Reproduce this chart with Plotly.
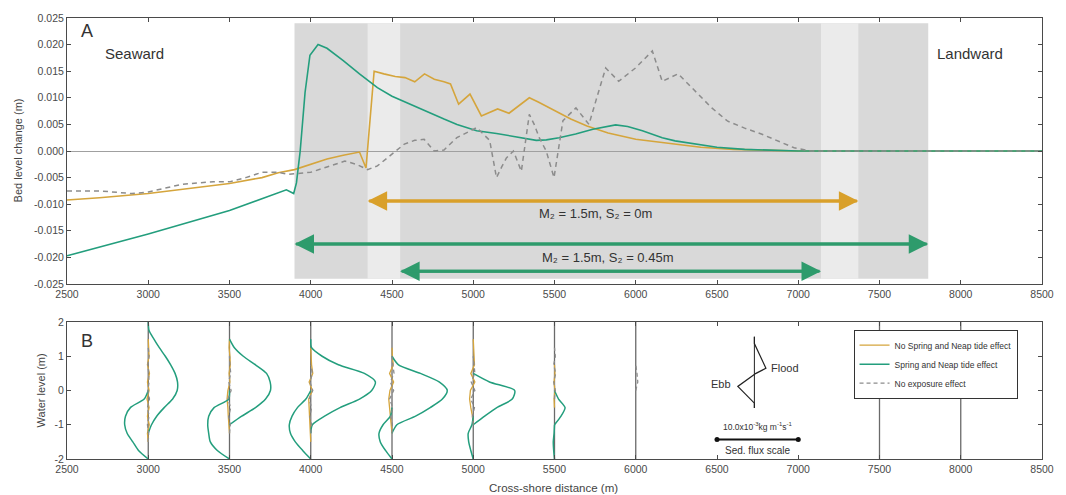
import plotly.graph_objects as go

# ---------------- Panel A data ----------------
noSN_x = [2500, 2700, 3000, 3200, 3500, 3700, 3800, 3900, 4000, 4100, 4200, 4300, 4340, 4390, 4450, 4520,
          4580, 4640, 4700, 4760, 4820, 4860, 4910, 4980, 5050, 5100, 5150, 5220, 5280, 5345, 5400, 5460,
          5530, 5600, 5700, 5830, 6000, 6240, 6400, 6600, 6800, 7000, 8500]
noSN_y = [-0.0092, -0.0088, -0.0080, -0.0072, -0.0061, -0.0050, -0.0041, -0.0035, -0.0025, -0.0015, -0.0008,
          -0.0002, -0.0032, 0.0150, 0.0145, 0.0140, 0.0138, 0.0130, 0.0145, 0.0135, 0.0130, 0.0126, 0.0088,
          0.0107, 0.0066, 0.0072, 0.0079, 0.0071, 0.0085, 0.0100, 0.0092, 0.0082, 0.0071, 0.0060, 0.0047,
          0.0034, 0.0022, 0.0013, 0.0007, 0.0003, 0.0001, 0.0, 0.0]

SN_x = [2500, 3000, 3500, 3850, 3895, 3912, 3935, 3965, 3995, 4045, 4100, 4200, 4300, 4410, 4500, 4613, 4700,
        4820, 4900, 5021, 5143, 5250, 5388, 5450, 5528, 5630, 5736, 5876, 5950, 6041, 6163, 6242, 6365, 6500,
        6670, 6850, 7000, 8500]
SN_y = [-0.0197, -0.0156, -0.0112, -0.0073, -0.0080, -0.0060, 0.0000, 0.0110, 0.0180, 0.0200, 0.0193, 0.0170,
        0.0145, 0.0119, 0.0103, 0.0088, 0.0075, 0.0060, 0.0050, 0.0038, 0.0033, 0.0027, 0.0020, 0.0021, 0.0025,
        0.0032, 0.0041, 0.0049, 0.0046, 0.0038, 0.0025, 0.0019, 0.0013, 0.0007, 0.0003, 0.0001, 0.0, 0.0]

noExp_x = [2500, 2700, 2900, 3000, 3100, 3200, 3300, 3400, 3500, 3600, 3700, 3800, 3860, 4000, 4100, 4210, 4280,
           4350, 4410, 4515, 4576, 4640, 4698, 4759, 4820, 4899, 4960, 5021, 5101, 5143, 5175, 5204, 5247, 5296,
           5345, 5375, 5406, 5449, 5497, 5552, 5632, 5712, 5760, 5815, 5895, 5998, 6102, 6163, 6261, 6365, 6468,
           6566, 6670, 6773, 6871, 6975, 7078, 8500]
noExp_y = [-0.0075, -0.0075, -0.0080, -0.0077, -0.0070, -0.0063, -0.0060, -0.0058, -0.0058, -0.0050, -0.0040,
           -0.0040, -0.0044, -0.0040, -0.0030, -0.0019, -0.0025, -0.0035, -0.0028, -0.0003, 0.0013, 0.0020, 0.0022,
           0.0000, 0.0002, 0.0025, 0.0035, 0.0044, 0.0020, -0.0050, -0.0030, -0.0013, 0.0000, -0.0038, 0.0069,
           0.0050, 0.0025, 0.0000, -0.0050, 0.0057, 0.0081, 0.0050, 0.0100, 0.0156, 0.0131, 0.0156, 0.0188, 0.0131,
           0.0145, 0.0113, 0.0081, 0.0056, 0.0043, 0.0032, 0.0019, 0.0006, 0.0000, 0.0000]

# exposure ranges (m)
range_M2_S0 = [4350, 7370]
range_M2_S045_wide = [3900, 7800]
range_M2_S045_narrow = [4550, 7140]
label_S0 = "M\u2082 = 1.5m, S\u2082 = 0m"
label_S045 = "M\u2082 = 1.5m, S\u2082 = 0.45m"

x_ticks = [2500, 3000, 3500, 4000, 4500, 5000, 5500, 6000, 6500, 7000, 7500, 8000, 8500]
yA_ticks = [-0.025, -0.020, -0.015, -0.010, -0.005, 0.000, 0.005, 0.010, 0.015, 0.020, 0.025]
yB_ticks = [-2, -1, 0, 1, 2]

# ---------------- Panel B data ----------------
stations = [3000, 3500, 4000, 4500, 5000, 5500, 6000, 7500, 8000]
water_level = [-2.0, -1.75, -1.5, -1.25, -1.0, -0.75, -0.5, -0.25, 0.0, 0.25, 0.5, 0.75, 1.0, 1.25, 1.5, 1.75, 2.0]
# sediment flux (x10^-3 kg m^-1 s^-1) on the water_level grid
SN_flood = [
    [0, 0, 0, 0, 0.4, 1.04, 1.96, 3.0, 3.56, 3.6, 3.3, 2.76, 2.1, 1.36, 0.7, 0.1, 0],
    [0, 0, 0, 0, 0, 1.5, 3.2, 4.44, 5.04, 5.0, 4.56, 3.2, 1.7, 0.6, 0, 0, 0],
    [0, 0, 0, 0, 0.2, 1.7, 3.6, 6.0, 7.5, 7.96, 6.6, 3.4, 1.4, 0.1, 0, 0, 0],
    [0, 0, 0, 0, 0.6, 2.9, 4.7, 6.2, 6.8, 5.8, 3.5, 0.8, 0, 0, 0, 0, 0],
    [0, 0, 0, 0, 0, 1.4, 2.9, 4.8, 5.1, 2.0, 0, 0, 0, 0, 0, 0, 0],
    [0, 0, 0, 0, 0, 0.8, 1.3, 0.5, 0, 0, 0, 0, 0, 0, 0, 0, 0],
    [0] * 17, [0] * 17, [0] * 17,
]
SN_ebb = [
    [0, -1.2, -1.9, -2.6, -2.9, -2.8, -2.2, -0.5, 0, 0, 0, 0, 0, 0, 0, 0, 0],
    [0, -1.5, -2.36, -2.56, -2.68, -2.56, -1.9, -0.1, 0, 0, 0, 0, 0, 0, 0, 0, 0],
    [0, -1.0, -1.9, -2.5, -2.64, -2.3, -1.64, -0.6, 0, 0, 0, 0, 0, 0, 0, 0, 0],
    [0, -0.8, -1.44, -1.6, -1.1, -0.2, 0, 0, 0, 0, 0, 0, 0, 0, 0, 0, 0],
    [0, -0.3, -0.56, -0.62, -0.16, 0, 0, 0, 0, 0, 0, 0, 0, 0, 0, 0, 0],
    [0, -0.1, -0.15, -0.05, 0, 0, 0, 0, 0, 0, 0, 0, 0, 0, 0, 0, 0],
    [0] * 17, [0] * 17, [0] * 17,
]
noSN_flux = [
    [0, 0, 0, -0.1, 0.12, -0.1, 0.1, -0.15, 0.1, -0.1, 0.15, -0.1, 0.1, 0.05, 0, 0, 0],
    [0, 0, 0, 0, -0.1, -0.15, -0.2, -0.3, -0.2, 0.05, -0.05, 0.1, 0.05, -0.05, 0, 0, 0],
    [0, 0, 0, -0.05, -0.1, -0.15, -0.2, -0.25, 0.2, -0.2, 0.25, 0.1, 0.05, 0, 0, 0, 0],
    [0, 0, 0, 0, -0.1, -0.2, -0.35, -0.4, -0.25, 0.2, -0.3, 0.15, 0.05, 0, 0, 0, 0],
    [0, 0, 0, 0, 0, -0.1, -0.3, -0.45, -0.35, 0.2, -0.3, 0.15, 0.1, 0.05, 0, 0, 0],
    [0, 0, 0, 0, 0, 0, 0, -0.05, 0.05, -0.05, 0.05, 0, 0, 0, 0, 0, 0],
    [0] * 17, [0] * 17, [0] * 17,
]
noExp_flux = [
    [0, 0, 0, 0.05, -0.1, 0.1, -0.1, 0.15, -0.05, 0.1, 0.05, -0.05, 0.1, 0, 0, 0, 0],
    [0, 0, 0, 0, 0.1, -0.1, 0.15, -0.2, 0.2, -0.1, 0.15, 0.05, 0, 0, 0, 0, 0],
    [0, 0, 0, 0, 0.1, -0.1, 0.1, -0.2, 0.25, -0.1, 0.2, 0, 0, 0, 0, 0, 0],
    [0, 0, 0, 0, 0.05, -0.15, 0.1, -0.3, 0.2, -0.2, 0.25, 0.1, 0, 0, 0, 0, 0],
    [0, 0, 0, 0, 0, -0.1, 0.15, -0.3, 0.2, -0.25, 0.2, 0.1, 0, 0, 0, 0, 0],
    [0, 0, 0, 0, 0, 0, 0, 0, 0.1, -0.1, 0.15, -0.1, 0.1, 0, 0, 0, 0],
    [0, 0, 0, 0, 0, 0, 0, 0, 0, 0.25, 0.15, 0, 0, 0, 0, 0, 0],
    [0] * 17, [0] * 17,
]

# flux scale bar and schematic
scale_value = 10.0
scale_bar = [6500, 7000]
scale_level = -1.43
inset_station = 6730
inset_flux = [0, 0, 1.42, 0.2, -2.04, 0, 0]
inset_wl = [1.57, 1.37, 0.65, 0.50, 0.12, -0.37, -0.51]

M_PER_UNIT = (scale_bar[1] - scale_bar[0]) / scale_value

C_OR = "#D5A53C"
C_GR = "#239E7D"
C_GY = "#8C8C8C"
C_AR_OR = "#D9A02A"
C_AR_GR = "#2E9B6C"
AX = "#4a4a4a"
FONT = "Liberation Sans, Arial, sans-serif"


def profile(stlist, wl, fluxes, trim=True):
    xs, ys = [], []
    for st, f in zip(stlist, fluxes):
        nz = [i for i, v in enumerate(f) if v != 0]
        if not nz:
            continue
        i0 = max(nz[0] - 1, 0) if trim else 0
        i1 = min(nz[-1] + 1, len(f) - 1) if trim else len(f) - 1
        for i in range(i0, i1 + 1):
            xs.append(st + f[i] * M_PER_UNIT)
            ys.append(wl[i])
        xs.append(None)
        ys.append(None)
    return xs, ys


fig = go.Figure()

# Panel A lines
fig.add_trace(go.Scatter(x=noSN_x, y=noSN_y, mode="lines", line=dict(color=C_OR, width=1.6),
                         showlegend=False, xaxis="x", yaxis="y"))
fig.add_trace(go.Scatter(x=SN_x, y=SN_y, mode="lines", line=dict(color=C_GR, width=1.6),
                         showlegend=False, xaxis="x", yaxis="y"))
fig.add_trace(go.Scatter(x=noExp_x, y=noExp_y, mode="lines", line=dict(color=C_GY, width=1.5, dash="5px,4px"),
                         showlegend=False, xaxis="x", yaxis="y"))

# Panel B station lines
sx, sy = [], []
for st in stations:
    sx += [st, st, None]
    sy += [yB_ticks[0], yB_ticks[-1], None]
fig.add_trace(go.Scatter(x=sx, y=sy, mode="lines", line=dict(color="#6a6a6a", width=1.3),
                         showlegend=False, xaxis="x2", yaxis="y2", hoverinfo="skip"))

# Panel B profiles
ox, oy = profile(stations, water_level, noSN_flux)
fig.add_trace(go.Scatter(x=ox, y=oy, mode="lines", line=dict(color=C_OR, width=1.3),
                         name="No Spring and Neap tide effect", xaxis="x2", yaxis="y2"))
fx, fy = profile(stations, water_level, SN_flood)
ex, ey = profile(stations, water_level, SN_ebb)
fig.add_trace(go.Scatter(x=fx + ex, y=fy + ey, mode="lines",
                         line=dict(color=C_GR, width=1.5, shape="spline", smoothing=0.7),
                         name="Spring and Neap tide effect", xaxis="x2", yaxis="y2"))
gx, gy = profile(stations, water_level, noExp_flux)
fig.add_trace(go.Scatter(x=gx, y=gy, mode="lines", line=dict(color=C_GY, width=1.3, dash="4px,3px"),
                         name="No exposure effect", xaxis="x2", yaxis="y2"))

# inset schematic
fig.add_trace(go.Scatter(x=[inset_station + v * M_PER_UNIT for v in inset_flux], y=inset_wl, mode="lines",
                         line=dict(color="#222", width=1.2), showlegend=False, xaxis="x2", yaxis="y2"))
fig.add_trace(go.Scatter(x=[inset_station, inset_station], y=[inset_wl[0], inset_wl[-1]], mode="lines",
                         line=dict(color="#222", width=1.0), showlegend=False, xaxis="x2", yaxis="y2"))
# scale bar
fig.add_trace(go.Scatter(x=scale_bar, y=[scale_level, scale_level], mode="lines+markers",
                         line=dict(color="#111", width=2), marker=dict(size=5, color="#111"),
                         showlegend=False, xaxis="x2", yaxis="y2"))

shapes = [
    dict(type="rect", xref="x", yref="y", x0=range_M2_S045_wide[0], x1=range_M2_S045_wide[1], y0=-0.024, y1=0.024,
         fillcolor="#d9d9d9", line=dict(width=0), layer="below"),
    dict(type="rect", xref="x", yref="y", x0=range_M2_S0[0], x1=range_M2_S045_narrow[0], y0=-0.024, y1=0.024,
         fillcolor="#ebebeb", line=dict(width=0), layer="below"),
    dict(type="rect", xref="x", yref="y", x0=range_M2_S045_narrow[1], x1=range_M2_S0[1], y0=-0.024, y1=0.024,
         fillcolor="#ebebeb", line=dict(width=0), layer="below"),
]

ann = []


def double_arrow(rng, yv, color):
    # each head drawn from the opposite end so the shafts fully overlap
    for end, other in ((rng[0], rng[1]), (rng[1], rng[0])):
        ann.append(dict(x=end, y=yv, ax=other, ay=yv, xref="x", yref="y", axref="x", ayref="y", text="",
                        showarrow=True, arrowhead=2, arrowsize=1.3, arrowwidth=3, arrowcolor=color, standoff=0))


double_arrow(range_M2_S0, -0.0094, C_AR_OR)
double_arrow(range_M2_S045_wide, -0.0175, C_AR_GR)
double_arrow(range_M2_S045_narrow, -0.0226, C_AR_GR)

ann += [
    dict(x=5754, y=-0.0118, xref="x", yref="y", text=label_S0, showarrow=False, font=dict(size=13, color="#333")),
    dict(x=5827, y=-0.0201, xref="x", yref="y", text=label_S045, showarrow=False, font=dict(size=13, color="#333")),
    dict(x=2575, y=0.0226, xref="x", yref="y", text="A", showarrow=False, xanchor="left",
         font=dict(size=18, color="#333")),
    dict(x=2720, y=0.0184, xref="x", yref="y", text="Seaward", showarrow=False, xanchor="left",
         font=dict(size=15, color="#333")),
    dict(x=7842, y=0.0184, xref="x", yref="y", text="Landward", showarrow=False, xanchor="left",
         font=dict(size=15, color="#333")),
    dict(x=2575, y=1.46, xref="x2", yref="y2", text="B", showarrow=False, xanchor="left",
         font=dict(size=18, color="#333")),
    dict(x=6822, y=0.65, xref="x2", yref="y2", text="Flood", showarrow=False, xanchor="left",
         font=dict(size=11, color="#333")),
    dict(x=6597, y=0.18, xref="x2", yref="y2", text="Ebb", showarrow=False, xanchor="right",
         font=dict(size=11, color="#333")),
    dict(x=(scale_bar[0] + scale_bar[1]) / 2, y=-1.05, xref="x2", yref="y2",
         text="%.1fx10<sup>-3</sup>kg m<sup>-1</sup>s<sup>-1</sup>" % scale_value, showarrow=False,
         font=dict(size=8.5, color="#333")),
    dict(x=(scale_bar[0] + scale_bar[1]) / 2, y=-1.74, xref="x2", yref="y2", text="Sed. flux scale",
         showarrow=False, font=dict(size=10, color="#333")),
    dict(x=-0.0498, y=0.7007, xref="paper", yref="paper", text="Bed level change (m)", textangle=-90,
         xanchor="center", yanchor="middle", showarrow=False, font=dict(size=11, color="#444")),
    dict(x=-0.0264, y=0.156, xref="paper", yref="paper", text="Water level (m)", textangle=-90,
         xanchor="center", yanchor="middle", showarrow=False, font=dict(size=11, color="#444")),
    dict(x=0.499, y=-0.0658, xref="paper", yref="paper", text="Cross-shore distance (m)",
         xanchor="center", yanchor="middle", showarrow=False, font=dict(size=11.5, color="#444")),
]

axis_common = dict(showline=True, linecolor=AX, linewidth=1, mirror="ticks", ticks="inside", ticklen=4,
                   tickcolor=AX, tickfont=dict(size=10.5, color="#4a4a4a", family=FONT), showgrid=False)

fig.update_layout(
    width=1066, height=495,
    margin=dict(l=67, r=16, t=18, b=36),
    plot_bgcolor="white", paper_bgcolor="white",
    font=dict(family=FONT, color="#333"),
    xaxis=dict(domain=[0, 1], anchor="y", range=[x_ticks[0], x_ticks[-1]], tickvals=x_ticks,
               ticktext=[str(v) for v in x_ticks], zeroline=False, **axis_common),
    yaxis=dict(domain=[175 / 441, 1], anchor="x", range=[yA_ticks[0], yA_ticks[-1]], tickvals=yA_ticks,
               ticktext=[("%.3f" % v).replace("-0.000", "0.000") for v in yA_ticks],
               zeroline=True, zerolinecolor="#a0a0a0", zerolinewidth=1, **axis_common),
    xaxis2=dict(domain=[0, 1], anchor="y2", range=[x_ticks[0], x_ticks[-1]], tickvals=x_ticks,
                ticktext=[str(v) for v in x_ticks], zeroline=False, **axis_common),
    yaxis2=dict(domain=[0, 137 / 441], anchor="x2", range=[yB_ticks[0], yB_ticks[-1]], tickvals=yB_ticks,
                ticktext=[str(v) for v in yB_ticks], zeroline=False, **axis_common),
    shapes=shapes,
    annotations=ann,
    legend=dict(x=0.8067, y=0.2932, xanchor="left", yanchor="top", bgcolor="white", bordercolor="#333",
                borderwidth=1, font=dict(size=8.5, color="#333"), tracegroupgap=0, itemwidth=30),
    showlegend=True,
)

fig.write_html("out.html")
